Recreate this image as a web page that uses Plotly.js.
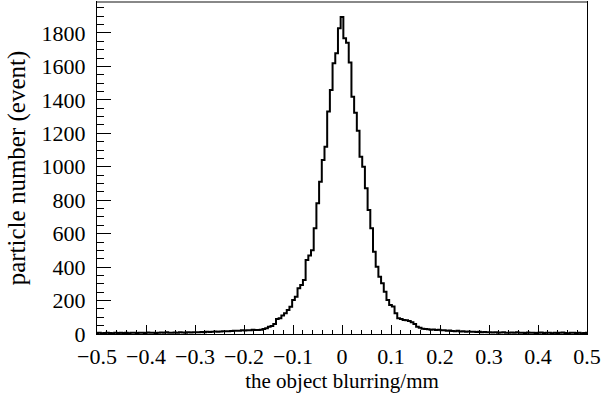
<!DOCTYPE html>
<html>
<head>
<meta charset="utf-8">
<script src="https://cdn.plot.ly/plotly-3.0.1.min.js"></script>
<style>
html,body{margin:0;padding:0;background:#fff;}
#chart{width:610px;height:401px;}
</style>
</head>
<body>
<div id="chart"></div>
<script>
// Histogram: bins of width binWidth, centred on binCentreFirst + i*binWidth
var binWidth = 0.0055;
var binCentreFirst = -91 * 0.0055;
var counts = [
  // left tail (-0.50 .. -0.30)
  6,7,5,6,7,6,5,7,6,8,6,7,5,8,7,6,8,7,6,9,7,8,6,8,9,7,10,8,7,9,8,10,9,8,11,9,10,
  // -0.30 .. -0.22
  11,10,12,11,13,12,13,15,14,15,17,16,17,18,
  // -0.22 .. -0.17
  20,19,20,22,21,23,22,25,24,
  // left core
  24,26,30,34,44,48,60,90,94,110,124,144,163,203,223,273,293,323,443,470,500,632,782,911,1041,1120,1330,1459,1619,1679,1828,
  // peak
  1895,
  // right core
  1768,1742,1623,1419,1323,1215,1060,1000,871,742,632,492,402,343,303,253,203,173,165,124,94,90,84,82,78,70,60,44,38,32,30,
  // 0.17 .. 0.22
  28,26,27,24,25,22,23,20,21,
  // 0.22 .. 0.30
  18,17,19,15,16,14,15,13,14,12,13,11,12,10,
  // right tail (0.30 .. 0.50)
  11,9,10,8,9,10,8,7,9,8,10,7,8,6,9,7,8,6,7,9,6,8,7,5,8,6,7,9,6,5,7,8,6,7,5,6,7
];
var xTitle = "the object blurring/mm";
var yTitle = "particle number (event)";
var xRange = [-0.5, 0.5];
var yRange = [0, 1985];

var xs = counts.map(function(_, i){ return binCentreFirst + i * binWidth; });

var font = "Liberation Serif, Times New Roman, serif";

var trace = {
  type: "scatter",
  mode: "lines",
  x: xs,
  y: counts,
  line: {shape: "hvh", color: "#000", width: 2},
  hoverinfo: "x+y"
};

var layout = {
  width: 610,
  height: 401,
  margin: {l: 97, r: 23, t: 2, b: 67},
  paper_bgcolor: "#fff",
  plot_bgcolor: "#fff",
  showlegend: false,
  font: {family: font, color: "#000", size: 22},
  xaxis: {
    range: xRange,
    dtick: 0.1,
    tick0: -0.5,
    ticks: "inside",
    ticklen: 9,
    tickwidth: 1,
    tickcolor: "#000",
    showgrid: false,
    zeroline: false,
    showline: true,
    linecolor: "#000",
    linewidth: 1,
    mirror: true,
    ticklabelstandoff: 3,
    tickfont: {family: font, size: 22, color: "#000"},
    minor: {dtick: 0.02, ticks: "inside", ticklen: 4, tickcolor: "#000", tickwidth: 1, showgrid: false},
    title: {text: xTitle, font: {family: font, size: 21, color: "#000"}, standoff: 3}
  },
  yaxis: {
    range: yRange,
    dtick: 200,
    tick0: 0,
    ticks: "inside",
    ticklen: 14,
    tickwidth: 1,
    tickcolor: "#000",
    showgrid: false,
    zeroline: false,
    showline: true,
    linecolor: "#000",
    linewidth: 1,
    mirror: true,
    ticklabelstandoff: 6,
    tickfont: {family: font, size: 22, color: "#000"},
    minor: {dtick: 50, ticks: "inside", ticklen: 7, tickcolor: "#000", tickwidth: 1, showgrid: false},
    title: {text: yTitle, font: {family: font, size: 25, color: "#000"}, standoff: 8}
  },
  shapes: [
    {type: "line", xref: "paper", yref: "paper", x0: 0, x1: 1, y0: 1, y1: 1, line: {color: "#888", width: 2}}
  ]
};

Plotly.newPlot("chart", [trace], layout, {displayModeBar: false, staticPlot: true});
</script>
</body>
</html>
